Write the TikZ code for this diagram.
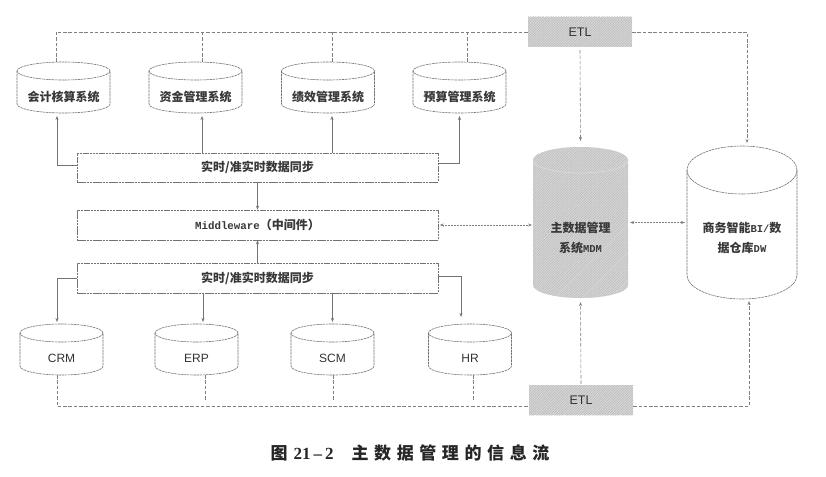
\documentclass[tikz,border=0pt]{standalone}
\usepackage{fontspec}
\setmainfont{Liberation Sans}
\newfontfamily\cjk{Noto Sans CJK SC}
\newfontfamily\monof{Liberation Mono}
\newfontfamily\capserif{Liberation Serif}
\usetikzlibrary{arrows.meta,patterns.meta,calc}

\tikzset{
  boxline/.style={draw=black!55, line width=0.6pt, dash pattern=on 2.5pt off 0.7pt},
  link/.style={draw=black!55, line width=0.6pt},
  loopline/.style={draw=black!50, line width=0.6pt, dash pattern=on 3.5pt off 1.8pt},
  denseline/.style={draw=black!50, line width=0.6pt, dash pattern=on 2pt off 1pt},
  tip/.style={-{Stealth[length=4pt,width=3pt]}},
  bothtips/.style={{Stealth[length=4pt,width=3pt]}-{Stealth[length=4pt,width=3pt]}},
  hatch/.style={preaction={fill=black!16},
    pattern={Lines[angle=45,distance=1.8pt,line width=0.35pt]}, pattern color=black!30},
  cntext/.style={font=\cjk\bfseries\fontsize{12}{20}\selectfont, text=black!78, align=center},
  syncbox/.style={boxline, minimum width=361pt, minimum height=29pt, inner sep=0pt, cntext},
  etlbox/.style={hatch, minimum width=104pt, minimum height=30pt, inner sep=0pt,
    font=\fontsize{12.5}{14}\selectfont, text=black!80},
  cylbody/.style={inner sep=0pt, outer sep=0pt},
  cyllabel/.style={cntext},
  latinlabel/.style={font=\fontsize{12}{14}\selectfont, text=black!80},
}

% database drum: name, centre x, top y, width, height, rim half-height, label style, label
\newcommand\dbcyl[8]{%
  \draw[boxline] (#2-#4/2,-#3-#6) -- (#2-#4/2,-#3-#5+#6)
    arc[start angle=180,end angle=360,x radius=#4/2,y radius=#6]
    -- (#2+#4/2,-#3-#6);
  \draw[boxline] (#2,-#3-#6) ellipse[x radius=#4/2,y radius=#6];
  \node[cylbody, minimum width=#4pt, minimum height=#5pt] (#1) at (#2,-#3-#5/2) {};
  \node[#7] (#1-label) at (#2,-#3-#6-#5/2) {#8};
}

\newcommand\cs{\hspace{5.6pt}}

\begin{document}
\begin{tikzpicture}[x=1pt,y=1pt]
  \useasboundingbox (0,0) rectangle (826,-476);
  \fill[white] (0,0) rectangle (826,-476);

  % business systems on top
  \dbcyl{kj}{63.5}{62}{93}{51}{9}{cyllabel}{会计核算系统}
  \dbcyl{zj}{195.5}{62}{93}{51}{9}{cyllabel}{资金管理系统}
  \dbcyl{jx}{328}{62}{93}{51}{9}{cyllabel}{绩效管理系统}
  \dbcyl{ys}{459.5}{62}{93}{51}{9}{cyllabel}{预算管理系统}

  % operational systems below
  \dbcyl{crm}{61.5}{324}{83}{51}{9}{latinlabel}{CRM}
  \dbcyl{erp}{196.5}{324}{83}{51}{9}{latinlabel}{ERP}
  \dbcyl{scm}{332.5}{324}{83}{51}{9}{latinlabel}{SCM}
  \dbcyl{hr}{470}{324}{83}{51}{9}{latinlabel}{HR}

  % synchronisation layers and middleware
  \node[syncbox] (sync1) at (257.5,-167.5) {实时/准实时数据同步};
  \node[syncbox, minimum height=30pt] (mw) at (257.5,-225)
    {{\monof\bfseries\fontsize{10.8}{12}\selectfont Middleware}（中间件）};
  \node[syncbox, minimum height=30pt] (sync2) at (257.5,-278) {实时/准实时数据同步};

  % ETL boxes
  \node[etlbox] (etl1) at (580,-32) {ETL};
  \node[etlbox] (etl2) at (581,-400) {ETL};

  % master data management drum (hatched)
  \path[hatch] (533,-160) -- (533,-285)
    arc[start angle=180,end angle=360,x radius=47.5,y radius=13]
    -- (628,-160)
    arc[start angle=0,end angle=180,x radius=47.5,y radius=13] -- cycle;
  \draw[white!85!black, line width=0.8pt] (533,-160)
    arc[start angle=180,end angle=360,x radius=47.5,y radius=13];
  \node[cylbody, minimum width=95pt, minimum height=151pt] (mdm) at (580.5,-222.5) {};
  \node[cntext] (mdm-label) at (580.5,-238)
    {主数据管理\\系统{\monof\bfseries\fontsize{10.5}{12}\selectfont MDM}};

  % BI / data warehouse drum
  \draw[boxline] (687,-170) -- (687,-275)
    arc[start angle=180,end angle=360,x radius=55,y radius=24] -- (797,-170);
  \draw[boxline] (742,-170) ellipse[x radius=55,y radius=24];
  \node[cylbody, minimum width=110pt, minimum height=153pt] (bi) at (742,-222.5) {};
  \node[cntext] (bi-label) at (742,-238)
    {商务智能{\monof\bfseries\fontsize{10.5}{12}\selectfont BI/}数\\据仓库{\monof\bfseries\fontsize{10.5}{12}\selectfont DW}};

  % upper ETL collection loop
  \draw[loopline] ([xshift=-7.5pt]kj.north) |- (etl1.west);
  \draw[loopline] ([xshift=6.5pt]zj.north) -- ([xshift=6.5pt]zj.north |- etl1.west);
  \draw[loopline] ([xshift=4pt]jx.north) -- ([xshift=4pt]jx.north |- etl1.west);
  \draw[loopline] ([xshift=7.5pt]ys.north) -- ([xshift=7.5pt]ys.north |- etl1.west);
  \draw[loopline, tip, shorten >=3pt] (etl1.east) -| ([xshift=5pt]bi.north);
  \draw[loopline, tip, shorten >=6pt, shorten <=3pt] (etl1.south) -- (mdm.north);

  % upper synchronisation links
  \draw[link, tip, shorten >=3pt] ([yshift=2.5pt]sync1.west) -| ([xshift=-6.5pt]kj.south);
  \draw[link, tip, shorten >=3pt] ([xshift=6.5pt]zj.south |- sync1.north) -- ([xshift=6.5pt]zj.south);
  \draw[link, tip, shorten >=3pt] ([xshift=4pt]jx.south |- sync1.north) -- ([xshift=4pt]jx.south);
  \draw[link, tip, shorten >=3pt] ([yshift=4.5pt]sync1.east) -| (ys.south);
  \draw[link, tip] (sync1.south) -- (mw.north);
  \draw[link, tip] (sync2.north) -- (mw.south);

  % lower synchronisation links
  \draw[link, tip, shorten >=2pt] (sync2.west) -| ([xshift=-4.5pt]crm.north);
  \draw[link, tip, shorten >=2pt] ([xshift=6.5pt]erp.north |- sync2.south) -- ([xshift=6.5pt]erp.north);
  \draw[link, tip, shorten >=2pt] (scm.north |- sync2.south) -- (scm.north);
  \draw[link, tip, shorten >=7pt] ([yshift=2pt]sync2.east) -| ([xshift=-9pt]hr.north);

  % lower ETL collection loop
  \draw[loopline] ([xshift=-4.5pt]crm.south) |- ([yshift=-6pt]etl2.west);
  \draw[loopline] ([xshift=8.5pt]erp.south) -- ([xshift=8.5pt]erp.south |- etl2.west);
  \draw[loopline] ([xshift=0.5pt]scm.south) -- ([xshift=0.5pt]scm.south |- etl2.west);
  \draw[loopline] ([xshift=3pt]hr.south) -- ([xshift=3pt]hr.south |- etl2.west);
  \draw[loopline, tip, shorten >=4pt, shorten <=1pt] (etl2.north) -- (mdm.south);
  \draw[loopline, tip, shorten >=2pt] ([yshift=-6pt]etl2.east) -| ([xshift=7pt]bi.south);

  % exchanges with the master data hub
  \draw[denseline, bothtips, shorten <=1.5pt, shorten >=1pt] (mw.east) -- (mw.east -| mdm.west);
  \draw[denseline, bothtips, shorten <=2pt, shorten >=2pt] (mdm.east) -- (bi.west);

  % caption
  \node[font=\cjk\bfseries\fontsize{17}{20}\selectfont, text=black!85] (caption) at (410,-453)
    {图\hspace{6pt}{\capserif\bfseries 21\hspace{3pt}–\hspace{3pt}2}\hspace{18pt}主\cs 数\cs 据\cs 管\cs 理\cs 的\cs 信\cs 息\cs 流};
\end{tikzpicture}
\end{document}
